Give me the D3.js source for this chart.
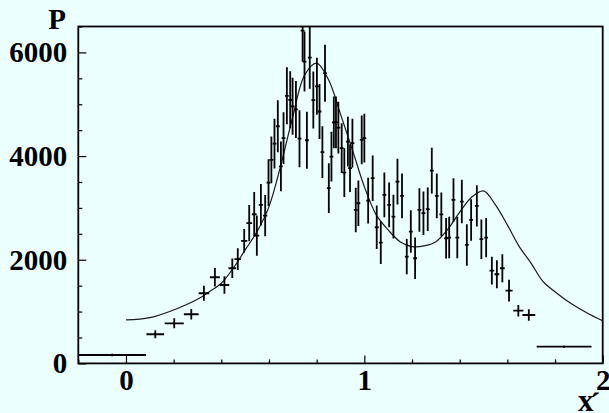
<!DOCTYPE html>
<html>
<head>
<meta charset="utf-8">
<script src="https://cdn.jsdelivr.net/npm/d3@7"></script>
<style>
  html, body { margin: 0; padding: 0; background: #ebffff; }
  svg { display: block; }
  .lbl { font-family: "Liberation Serif", "DejaVu Serif", serif; font-weight: bold; }
</style>
</head>
<body>
<svg id="chart" width="609" height="413"></svg>
<script>
// measured points (x', P) with errors
var dataX = [-0.058, 0.123, 0.2025, 0.274, 0.327, 0.373, 0.413, 0.446, 0.469, 0.496,
  0.517, 0.538, 0.549, 0.566, 0.584, 0.598, 0.610, 0.623, 0.637, 0.650,
  0.661, 0.675, 0.689, 0.699, 0.713, 0.728, 0.741, 0.749, 0.759, 0.771,
  0.786, 0.801, 0.812, 0.824, 0.835, 0.851, 0.862, 0.872, 0.881, 0.891,
  0.905, 0.916, 0.931, 0.940, 0.950, 0.964, 0.975, 0.989, 1.000, 1.016,
  1.035, 1.052, 1.069, 1.084, 1.104, 1.122, 1.139, 1.158, 1.178, 1.195,
  1.213, 1.231, 1.248, 1.266, 1.283, 1.304, 1.323, 1.343, 1.356, 1.374,
  1.390, 1.409, 1.430, 1.448, 1.472, 1.491, 1.511, 1.535, 1.556, 1.579,
  1.607, 1.646, 1.690, 1.838];
var dataY = [162, 562, 774, 948, 1353, 1662, 1513, 1836, 2010, 2363,
  2705, 2878, 2465, 3060, 2851, 3488, 3927, 4240, 4575, 3800,
  4346, 5162, 5085, 4960, 4900, 4335, 6420, 5824, 4305, 5900,
  5080, 5345, 4860, 4075, 5600, 3380, 3990, 4650, 4650, 4550,
  4152, 3681, 4280, 3766, 4249, 2961, 3090, 4313, 4346, 3140,
  3573, 2627, 2330, 3251, 3058, 2832, 3508, 3232, 2060, 2543,
  2029, 2961, 2898, 2975, 3720, 3232, 2875, 2415, 2427, 3154,
  2427, 3122, 2286, 2768, 3039, 2396, 2427, 1790, 1720, 1836,
  1404, 1017, 934, 322];
var errY = [25, 77, 96, 103, 145, 177, 170, 190, 210, 230,
  350, 430, 390, 400, 400, 450, 450, 480, 500, 480,
  500, 550, 550, 550, 550, 550, 600, 580, 550, 600,
  550, 550, 530, 500, 550, 480, 480, 500, 500, 500,
  480, 470, 480, 460, 470, 430, 440, 470, 470, 440,
  440, 420, 410, 430, 430, 420, 440, 430, 340, 410,
  400, 420, 420, 420, 440, 430, 420, 390, 400, 420,
  400, 420, 400, 400, 400, 380, 380, 270, 270, 270,
  210, 110, 110, 20];
var errX = [0.142, 0.037, 0.04, 0.031, 0.022, 0.021, 0.02, 0.016, 0.014, 0.013,
  0.012, 0.01, 0.01, 0.009, 0.009, 0.008, 0.008, 0.008, 0.008, 0.008,
  0.008, 0.008, 0.008, 0.008, 0.008, 0.008, 0.008, 0.008, 0.008, 0.008,
  0.008, 0.008, 0.008, 0.008, 0.008, 0.008, 0.008, 0.008, 0.008, 0.008,
  0.008, 0.008, 0.008, 0.008, 0.008, 0.008, 0.008, 0.008, 0.008, 0.008,
  0.008, 0.008, 0.008, 0.008, 0.008, 0.008, 0.008, 0.008, 0.008, 0.008,
  0.008, 0.008, 0.008, 0.008, 0.008, 0.008, 0.008, 0.008, 0.008, 0.008,
  0.008, 0.008, 0.008, 0.008, 0.008, 0.008, 0.008, 0.01, 0.01, 0.01,
  0.015, 0.021, 0.027, 0.115];

// fitted curve
var curveX = [0.0, 0.1, 0.2, 0.3, 0.35, 0.4, 0.45, 0.5, 0.55, 0.6,
  0.65, 0.7, 0.75, 0.8, 0.85, 0.9, 0.95, 1.0, 1.05, 1.1,
  1.15, 1.2, 1.25, 1.3, 1.35, 1.4, 1.45, 1.5, 1.55, 1.6,
  1.65, 1.7, 1.75, 1.8, 1.85, 1.9, 1.95, 2.0];
var curveY = [838, 882, 1031, 1237, 1384, 1546, 1836, 2189, 2543, 3025,
  3830, 4763, 5568, 5793, 5471, 4809, 4120, 3411, 2865, 2575,
  2349, 2253, 2266, 2349, 2588, 2917, 3207, 3328, 3058, 2672,
  2253, 1930, 1577, 1384, 1210, 1064, 934, 824];

var xMajor = [0, 1, 2];
var xMinor = [-0.2, 0.2, 0.4, 0.6, 0.8, 1.2, 1.4, 1.6, 1.8];
var yMajor = [0, 2000, 4000, 6000];
var yMinor = [500, 1000, 1500, 2500, 3000, 3500, 4500, 5000, 5500, 6500];

var svg = d3.select("#chart"),
    width = +svg.attr("width"),
    height = +svg.attr("height");

var padL = 78.3, padR = 602.7, padT = 26.5, padB = 363.4;

svg.append("rect")
    .attr("width", width)
    .attr("height", height)
    .attr("fill", "#ebffff");

var x = d3.scaleLinear().domain([-0.2, 2]).range([padL, padR]);
var y = d3.scaleLinear().domain([0, 6500]).range([padB, padT]);

svg.append("clipPath")
    .attr("id", "frame")
    .append("rect")
    .attr("x", padL)
    .attr("y", padT)
    .attr("width", padR - padL)
    .attr("height", padB - padT);

var plot = svg.append("g").attr("clip-path", "url(#frame)");

// curve
var line = d3.line()
    .x(function(d, i) { return x(curveX[i]); })
    .y(function(d) { return y(d); })
    .curve(d3.curveCatmullRom);

plot.append("path")
    .datum(curveY)
    .attr("d", line)
    .attr("fill", "none")
    .attr("stroke", "#1a1a1a")
    .attr("stroke-width", 1.2);

// error bars
var pts = plot.append("g")
    .attr("stroke", "#000")
    .attr("stroke-width", 1.8)
    .selectAll("g")
    .data(dataY)
    .enter().append("g");

pts.append("line")
    .attr("x1", function(d, i) { return x(dataX[i]); })
    .attr("x2", function(d, i) { return x(dataX[i]); })
    .attr("y1", function(d, i) { return y(d - errY[i]); })
    .attr("y2", function(d, i) { return y(d + errY[i]); });

pts.append("line")
    .attr("x1", function(d, i) { return x(dataX[i] - errX[i]); })
    .attr("x2", function(d, i) { return x(dataX[i] + errX[i]); })
    .attr("y1", function(d) { return y(d); })
    .attr("y2", function(d) { return y(d); });

// axes
function styleAxis(g) {
    g.select(".domain").remove();
    g.selectAll(".tick line").attr("stroke", "#000").attr("stroke-width", 1.2);
    g.selectAll("text")
        .attr("class", "lbl")
        .attr("fill", "#000")
        .style("font-size", "29px");
}

svg.append("g")
    .attr("transform", "translate(0," + padB + ")")
    .call(d3.axisBottom(x).tickValues(xMinor).tickSize(-4).tickFormat(""))
    .call(styleAxis);

svg.append("g")
    .attr("transform", "translate(0," + padB + ")")
    .call(d3.axisBottom(x).tickValues(xMajor).tickSize(-8).tickPadding(6).tickFormat(d3.format("d")))
    .call(styleAxis);

svg.append("g")
    .attr("transform", "translate(" + padL + ",0)")
    .call(d3.axisLeft(y).tickValues(yMinor).tickSize(-4).tickFormat(""))
    .call(styleAxis);

svg.append("g")
    .attr("transform", "translate(" + padL + ",0)")
    .call(d3.axisLeft(y).tickValues(yMajor).tickSize(-8).tickPadding(11).tickFormat(d3.format("d")))
    .call(styleAxis);

// frame
svg.append("rect")
    .attr("x", padL)
    .attr("y", padT)
    .attr("width", padR - padL)
    .attr("height", padB - padT)
    .attr("fill", "none")
    .attr("stroke", "#000")
    .attr("stroke-width", 1.8);

// titles
svg.append("text")
    .attr("class", "lbl")
    .attr("x", 66)
    .attr("y", 29)
    .attr("text-anchor", "end")
    .style("font-size", "29px")
    .text("P");

svg.append("text")
    .attr("class", "lbl")
    .attr("x", 578)
    .attr("y", 411)
    .style("font-size", "31px")
    .text("x");

svg.append("text")
    .attr("class", "lbl")
    .attr("x", 590)
    .attr("y", 414)
    .style("font-size", "31px")
    .text("\u00b4");
</script>
</body>
</html>
